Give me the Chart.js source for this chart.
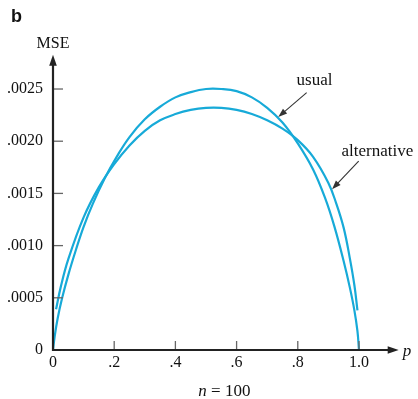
<!DOCTYPE html>
<html><head><meta charset="utf-8">
<script src="https://cdn.jsdelivr.net/npm/chart.js@4/dist/chart.umd.min.js"></script>
<style>html,body{margin:0;padding:0;background:#fff}#wrap{width:418px;height:399px;position:relative}canvas{display:block}</style>
</head><body><div id="wrap"><canvas id="c" width="418" height="399"></canvas></div>
<script>
// ---- data ----
const usualP   = [0, 0.005, 0.015, 0.03, 0.05, 0.075, 0.10, 0.13, 0.17, 0.21, 0.25, 0.30, 0.35, 0.40, 0.45, 0.50, 0.55, 0.60, 0.65, 0.70, 0.75, 0.80, 0.85, 0.89, 0.92, 0.95, 0.97, 0.985, 0.995, 1.0];
const usualMSE = [0, 0.00012, 0.0003, 0.0005, 0.00072, 0.00096, 0.00118, 0.0014, 0.00165, 0.00186, 0.00204, 0.00221, 0.00233, 0.00242, 0.00247, 0.0025, 0.0025, 0.00248, 0.00242, 0.00232, 0.00218, 0.00198, 0.00173, 0.00145, 0.00118, 0.00085, 0.0006, 0.00038, 0.00018, 0];
const altP     = [0.01, 0.025, 0.05, 0.10, 0.15, 0.20, 0.25, 0.30, 0.35, 0.40, 0.45, 0.50, 0.55, 0.60, 0.65, 0.70, 0.75, 0.80, 0.85, 0.90, 0.925, 0.95, 0.97, 0.985, 0.995];
const altMSE   = [0.00039, 0.0006, 0.00087, 0.00127, 0.00156, 0.00178, 0.00196, 0.0021, 0.0022, 0.00226, 0.0023, 0.00232, 0.00232, 0.0023, 0.00226, 0.0022, 0.00212, 0.00201, 0.00185, 0.0016, 0.00141, 0.00117, 0.00088, 0.00062, 0.00038];
const seriesNames = ['usual', 'alternative'];
const xTicks = [0, 0.2, 0.4, 0.6, 0.8, 1.0];
const xTickLabels = ['0', '.2', '.4', '.6', '.8', '1.0'];
const yTicks = [0, 0.0005, 0.001, 0.0015, 0.002, 0.0025];
const yTickLabels = ['0', '.0005', '.0010', '.0015', '.0020', '.0025'];
const panelLabel = 'b';
const yTitle = 'MSE';
const xTitle = 'p';
const nNote = ['n', ' = 100'];
// annotation anchors (data units): label position, arrow start, arrow tip
const noteUsual = {text: 'usual', at: [0.796, 0.002538], from: [0.829, 0.002465], to: [0.736, 0.002232]};
const noteAlt   = {text: 'alternative', at: [0.943, 0.001858], from: [0.999, 0.00181], to: [0.912, 0.001540]};

const SERIF = "'Liberation Serif','Times New Roman',serif";
const LINE = '#17aad8';

function pts(xs, ys){ return xs.map((v,i)=>({x:v, y:ys[i]})); }

const deco = {
  id: 'deco',
  afterDraw(chart){
    const {ctx, scales:{x, y}} = chart;
    const X0 = x.getPixelForValue(0), Y0 = y.getPixelForValue(0);
    const line = (a,b,c,d)=>{ctx.beginPath();ctx.moveTo(a,b);ctx.lineTo(c,d);ctx.stroke();};
    const tri = (p1,p2,p3)=>{ctx.beginPath();ctx.moveTo(...p1);ctx.lineTo(...p2);ctx.lineTo(...p3);ctx.closePath();ctx.fill();};
    ctx.save();
    // inward ticks
    ctx.strokeStyle = '#666'; ctx.lineWidth = 1.3;
    yTicks.forEach(v=>{ if(v===0) return; const py = y.getPixelForValue(v); line(X0, py, X0+10, py); });
    xTicks.forEach(v=>{ if(v===0) return; const px = x.getPixelForValue(v); line(px, Y0, px, Y0-9); });
    // axes
    ctx.strokeStyle = '#222'; ctx.fillStyle = '#222'; ctx.lineWidth = 2.2;
    line(X0, Y0+1, X0, y.top+5);
    line(X0-1, Y0, x.right-4, Y0);
    tri([X0, y.top-3], [X0-3.8, y.top+8], [X0+3.8, y.top+8]);
    tri([x.right+3, Y0], [x.right-8, Y0-3.8], [x.right-8, Y0+3.8]);
    // texts
    ctx.fillStyle = '#111';
    ctx.textBaseline = 'alphabetic';
    ctx.font = "bold 18px 'Liberation Sans', Arial, sans-serif";
    ctx.textAlign = 'left';
    ctx.fillText(panelLabel, 11, 21.5);
    ctx.font = '16px ' + SERIF;
    ctx.textAlign = 'center';
    ctx.fillText(yTitle, X0, y.top - 9.5);
    ctx.font = 'italic 17px ' + SERIF;
    ctx.textAlign = 'left';
    ctx.fillText(xTitle, x.right + 7, Y0 + 6);
    // n = 100 centred under the axis
    const cx = (x.left + x.right)/2;
    ctx.font = 'italic 17px ' + SERIF; const w1 = ctx.measureText(nNote[0]).width;
    ctx.font = '17px ' + SERIF; const w2 = ctx.measureText(nNote[1]).width;
    const sx = cx - (w1+w2)/2;
    ctx.font = 'italic 17px ' + SERIF; ctx.fillText(nNote[0], sx, Y0 + 45.5);
    ctx.font = '17px ' + SERIF; ctx.fillText(nNote[1], sx + w1, Y0 + 45.5);
    // annotations
    [noteUsual, noteAlt].forEach(n=>{
      ctx.fillStyle = '#111';
      ctx.font = '17px ' + SERIF; ctx.textAlign = 'left';
      ctx.fillText(n.text, x.getPixelForValue(n.at[0]), y.getPixelForValue(n.at[1]));
      const ax = x.getPixelForValue(n.from[0]), ay = y.getPixelForValue(n.from[1]);
      const bx = x.getPixelForValue(n.to[0]),   by = y.getPixelForValue(n.to[1]);
      const ang = Math.atan2(by-ay, bx-ax);
      ctx.strokeStyle = '#333'; ctx.fillStyle = '#333'; ctx.lineWidth = 1.1;
      line(ax, ay, bx - 6*Math.cos(ang), by - 6*Math.sin(ang));
      const L = 9, H = 3.2;
      const ux = Math.cos(ang), uy = Math.sin(ang);
      tri([bx, by], [bx - L*ux - H*uy, by - L*uy + H*ux], [bx - L*ux + H*uy, by - L*uy - H*ux]);
    });
    ctx.restore();
  }
};

new Chart(document.getElementById('c'), {
  type: 'line',
  data: {
    datasets: [
      {label: seriesNames[0], data: pts(usualP, usualMSE), borderColor: LINE, borderWidth: 2.2, pointRadius: 0, tension: 0.4, fill: false},
      {label: seriesNames[1], data: pts(altP, altMSE), borderColor: LINE, borderWidth: 2.2, pointRadius: 0, tension: 0.4, fill: false}
    ]
  },
  options: {
    responsive: false, animation: false, devicePixelRatio: 1,
    layout: {padding: {top: 57.7, right: 22.3, left: 0, bottom: 0}},
    plugins: {legend: {display: false}, tooltip: {enabled: false}},
    scales: {
      x: {
        type: 'linear', min: 0, max: 1.12,
        grid: {display: false, drawTicks: false}, border: {display: false},
        afterBuildTicks: s => { s.ticks = xTicks.map(v=>({value: v})); },
        afterFit: s => { s.height = 49; },
        ticks: {padding: 3, color: '#111', font: {family: SERIF, size: 16}, maxRotation: 0,
          callback: v => xTickLabels[xTicks.findIndex(t=>Math.abs(t-v)<1e-9)]}
      },
      y: {
        type: 'linear', min: 0, max: 0.0028,
        grid: {display: false, drawTicks: false}, border: {display: false},
        afterBuildTicks: s => { s.ticks = yTicks.map(v=>({value: v})); },
        afterFit: s => { s.width = 53; },
        ticks: {padding: 10, color: '#111', font: {family: SERIF, size: 16},
          callback: v => yTickLabels[yTicks.findIndex(t=>Math.abs(t-v)<1e-12)]}
      }
    }
  },
  plugins: [deco]
});
</script>
</body></html>
